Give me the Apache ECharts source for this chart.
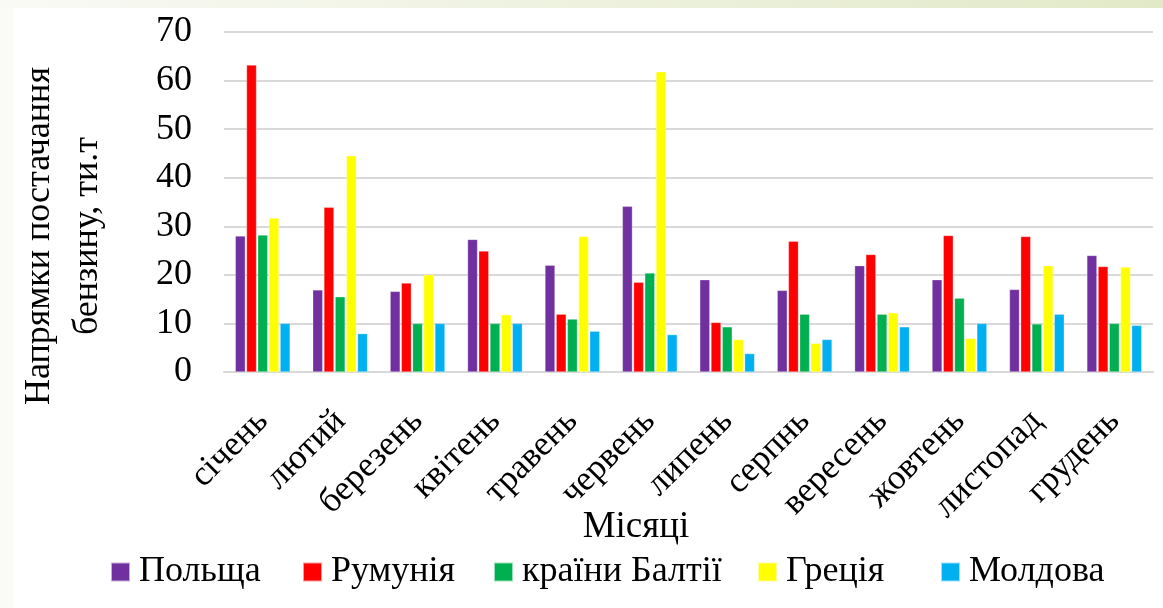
<!DOCTYPE html>
<html>
<head>
<meta charset="utf-8">
<script src="https://cdn.jsdelivr.net/npm/echarts@6/dist/echarts.min.js"></script>
<style>
html,body{margin:0;padding:0;background:#fff;}
#chart{width:1163px;height:608px;}
</style>
</head>
<body>
<div id="chart"></div>
<script>
const months = ['січень','лютий','березень','квітень','травень','червень','липень','серпнь','вересень','жовтень','листопад','грудень'];
const poland  = [28.0, 16.9, 16.6, 27.3, 22.0, 34.1, 19.0, 16.8, 21.9, 19.0, 17.0, 24.0];
const romania = [63.2, 33.9, 18.3, 24.9, 11.9, 18.5, 10.2, 26.9, 24.2, 28.1, 27.9, 21.7];
const baltic  = [28.2, 15.5, 10.0, 10.0, 10.9, 20.4, 9.3, 11.9, 11.9, 15.2, 9.9, 10.0];
const greece  = [31.7, 44.5, 20.0, 11.8, 27.9, 61.8, 6.7, 5.9, 12.2, 6.9, 21.9, 21.6];
const moldova = [10.0, 7.9, 10.0, 10.0, 8.4, 7.7, 3.8, 6.7, 9.3, 10.0, 11.9, 9.6];
const seriesNames = ['Польща','Румунія','країни Балтії','Греція','Молдова'];
const yTicks = [0, 10, 20, 30, 40, 50, 60, 70];
const yTitle = 'Напрямки постачання\nбензину, ти.т';
const xTitle = 'Місяці';

const colors = ['#7030A0','#FF0000','#00B050','#FFFF00','#00B0F0'];
const dataSets = [poland, romania, baltic, greece, moldova];
const legendLeft = [110, 302, 493, 757, 940];
const FONT = 'Liberation Serif';

const chart = echarts.init(document.getElementById('chart'), null, {renderer:'canvas'});
chart.setOption({
  animation: false,
  backgroundColor: '#ffffff',
  color: colors,
  textStyle: {fontFamily: FONT},
  grid: {left: 224, right: 10, top: 32, bottom: 236, containLabel: false},
  legend: seriesNames.map((n, i) => ({
    left: legendLeft[i], top: 554, padding: 0,
    itemWidth: 19, itemHeight: 19,
    icon: 'rect',
    data: [n],
    textStyle: {fontFamily: FONT, fontSize: 36, color: '#000', padding: [0, 0, 0, 4]}
  })),
  xAxis: {
    type: 'category',
    data: months,
    axisLine: {show: true, lineStyle: {color: '#d9d9d9', width: 2}},
    axisTick: {show: false},
    axisLabel: {rotate: 45, interval: 0, margin: 44, fontFamily: FONT, fontSize: 35, color: '#000'}
  },
  yAxis: {
    type: 'value',
    min: yTicks[0], max: yTicks[yTicks.length - 1], interval: 10,
    axisLine: {show: false},
    axisTick: {show: false},
    splitLine: {lineStyle: {color: '#d9d9d9', width: 2}},
    axisLabel: {margin: 32, fontFamily: FONT, fontSize: 36, color: '#000'}
  },
  graphic: [
    {type: 'rect', left: 0, top: 0, shape: {width: 1163, height: 8}, silent: true,
     style: {fill: new echarts.graphic.LinearGradient(0, 0, 1, 0, [{offset: 0, color: '#f9faf5'}, {offset: 1, color: '#e2e9c8'}])}},
    {type: 'rect', left: 0, top: 8, shape: {width: 13, height: 600}, silent: true, style: {fill: '#fafbf6'}},
    {type: 'text', x: 64, y: 236, rotation: Math.PI / 2, silent: true,
     style: {text: yTitle, fontFamily: FONT, fontSize: 36, lineHeight: 48, fill: '#000', align: 'center', verticalAlign: 'middle'}},
    {type: 'text', x: 636, y: 527, silent: true,
     style: {text: xTitle, fontFamily: FONT, fontSize: 37, fill: '#000', align: 'center', verticalAlign: 'middle'}}
  ],
  series: seriesNames.map((n, i) => ({
    name: n, type: 'bar', data: dataSets[i],
    barWidth: 10, barGap: '12%', barCategoryGap: '29%',
    itemStyle: {color: colors[i], borderColor: 'rgba(255,255,255,0.6)', borderWidth: 0.5}
  }))
});
</script>
</body>
</html>
